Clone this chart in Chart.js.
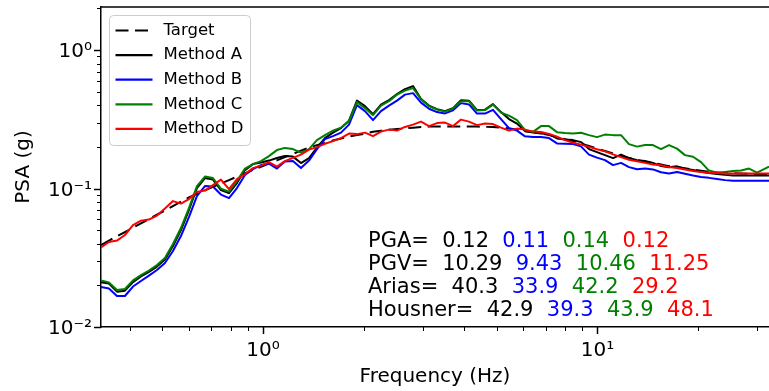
<!DOCTYPE html>
<html>
<head>
<meta charset="utf-8">
<script src="https://cdn.jsdelivr.net/npm/chart.js@4.4.1/dist/chart.umd.min.js"></script>
<style>
  html, body { margin: 0; padding: 0; background: #fff; overflow: hidden; }
  canvas { display: block; }
</style>
</head>
<body>
<canvas id="psa-chart" width="769" height="391"></canvas>
<script>
// frequencies (Hz) shared by every series
const freqs = [0.328, 0.3464, 0.3661, 0.3867, 0.4088, 0.4318, 0.4562, 0.4821, 0.5093, 0.5382,
  0.5686, 0.6008, 0.6348, 0.6707, 0.7087, 0.7488, 0.7915, 0.8361, 0.8835, 0.9335,
  0.9863, 1.042, 1.101, 1.163, 1.229, 1.299, 1.373, 1.450, 1.532, 1.619,
  1.711, 1.808, 1.910, 2.018, 2.133, 2.253, 2.381, 2.516, 2.658, 2.809,
  2.968, 3.136, 3.313, 3.501, 3.699, 3.908, 4.129, 4.364, 4.610, 4.871,
  5.147, 5.438, 5.745, 6.072, 6.416, 6.778, 7.162, 7.568, 7.996, 8.450,
  8.928, 9.432, 9.965, 10.53, 11.13, 11.76, 12.42, 13.13, 13.87, 14.65,
  15.48, 16.36, 17.29, 18.26, 19.30, 20.39, 21.54, 22.77, 24.06, 25.42,
  26.86, 28.38, 29.99, 31.68, 32.56];

// PSA (g)
const target = [0.0391, 0.0421, 0.0452, 0.0485, 0.0522, 0.0561, 0.0602, 0.0647, 0.0695, 0.0748,
  0.0804, 0.0864, 0.0917, 0.0971, 0.1028, 0.1089, 0.1151, 0.1219, 0.1288, 0.1365,
  0.1439, 0.1517, 0.160, 0.1687, 0.1781, 0.1878, 0.1977, 0.2061, 0.2132, 0.2222,
  0.2303, 0.2373, 0.2433, 0.2495, 0.257, 0.2612, 0.2658, 0.269, 0.2721, 0.2754,
  0.2787, 0.2805, 0.2805, 0.2805, 0.2805, 0.2805, 0.2805, 0.2805, 0.2793, 0.278,
  0.2754, 0.2721, 0.2667, 0.260, 0.2559, 0.2516, 0.2433, 0.2355, 0.2277, 0.2203,
  0.2113, 0.2028, 0.1946, 0.1866, 0.179, 0.1717, 0.1661, 0.1606, 0.1562, 0.1529,
  0.1491, 0.1453, 0.1429, 0.140, 0.1371, 0.1345, 0.1322, 0.1309, 0.1298, 0.1289,
  0.1283, 0.1279, 0.1275, 0.1272, 0.1272];

const methodA = [0.0211, 0.0206, 0.0180, 0.0183, 0.0211, 0.0232, 0.0250, 0.0273, 0.0307, 0.0385,
  0.0502, 0.0700, 0.1008, 0.1191, 0.1161, 0.0975, 0.0928, 0.1096, 0.1360, 0.1503,
  0.1541, 0.1593, 0.1661, 0.1717, 0.1702, 0.1528, 0.1661, 0.1977, 0.2315, 0.2537,
  0.2734, 0.3097, 0.4318, 0.3942, 0.3450, 0.4042, 0.4355, 0.4813, 0.5229, 0.5496,
  0.4429, 0.3975, 0.3750, 0.3627, 0.3814, 0.4355, 0.4318, 0.3689, 0.3718, 0.4076,
  0.3568, 0.3176, 0.2947, 0.2601, 0.2537, 0.2503, 0.2474, 0.2303, 0.2258, 0.2239,
  0.2166, 0.1929, 0.1834, 0.1745, 0.1661, 0.1760, 0.1661, 0.1600, 0.1582, 0.1533,
  0.1454, 0.1425, 0.1447, 0.1390, 0.1360, 0.1324, 0.1294, 0.1273, 0.1256, 0.1245,
  0.1245, 0.1245, 0.1245, 0.1245, 0.1245];

const methodB = [0.01945, 0.0190, 0.01675, 0.01675, 0.0196, 0.0215, 0.0235, 0.0258, 0.0290, 0.0354,
  0.0454, 0.0622, 0.0883, 0.1043, 0.1034, 0.0905, 0.0854, 0.1008, 0.1252, 0.1383,
  0.1478, 0.1515, 0.1395, 0.1566, 0.1579, 0.1406, 0.1593, 0.1929, 0.2277, 0.2393,
  0.2537, 0.2898, 0.4009, 0.3627, 0.3124, 0.3627, 0.3975, 0.4318, 0.4772, 0.4892,
  0.4178, 0.3770, 0.3568, 0.3491, 0.3675, 0.4143, 0.4054, 0.3480, 0.3480, 0.3707,
  0.3176, 0.2734, 0.2622, 0.2385, 0.2354, 0.2354, 0.2315, 0.2120, 0.2106, 0.2096,
  0.2017, 0.1760, 0.1674, 0.1606, 0.1478, 0.1533, 0.1429, 0.1378, 0.1395, 0.1376,
  0.1311, 0.1287, 0.1316, 0.1279, 0.1241, 0.1211, 0.1195, 0.1171, 0.1151, 0.1138,
  0.1138, 0.1138, 0.1138, 0.1138, 0.1138];

const methodC = [0.0217, 0.0210, 0.0185, 0.0188, 0.0217, 0.0237, 0.0256, 0.0280, 0.0315, 0.0398,
  0.0519, 0.0723, 0.1043, 0.1221, 0.1191, 0.100, 0.0951, 0.1133, 0.1395, 0.1503,
  0.1579, 0.1717, 0.1897, 0.1967, 0.1929, 0.1819, 0.1929, 0.2239, 0.2433, 0.2622,
  0.2757, 0.3072, 0.4213, 0.3814, 0.3393, 0.3975, 0.4283, 0.4772, 0.5099, 0.5316,
  0.4429, 0.3942, 0.3718, 0.3597, 0.3782, 0.4283, 0.4283, 0.3659, 0.3689, 0.4042,
  0.3538, 0.3365, 0.3124, 0.2644, 0.2570, 0.2827, 0.2827, 0.2557, 0.2516, 0.2503,
  0.2529, 0.2433, 0.2354, 0.2454, 0.2433, 0.2433, 0.2096, 0.2010, 0.2061, 0.2061,
  0.1929, 0.2061, 0.1944, 0.1745, 0.1697, 0.1553, 0.1349, 0.1300, 0.1320, 0.1338,
  0.1353, 0.1395, 0.1305, 0.1395, 0.1442];

const methodD = [0.0375, 0.0411, 0.0421, 0.0462, 0.0545, 0.0586, 0.0597, 0.0638, 0.0717, 0.0812,
  0.0779, 0.0840, 0.0943, 0.0967, 0.1060, 0.1161, 0.0992, 0.1171, 0.1273, 0.1406,
  0.1466, 0.1553, 0.1442, 0.1579, 0.1666, 0.1760, 0.1912, 0.1994, 0.2106, 0.2203,
  0.2315, 0.2495, 0.2474, 0.2537, 0.2393, 0.2580, 0.2667, 0.2622, 0.2789, 0.2898,
  0.3046, 0.2827, 0.2971, 0.2996, 0.2827, 0.3150, 0.3046, 0.2874, 0.2947, 0.2922,
  0.2754, 0.2622, 0.2712, 0.2667, 0.2580, 0.2559, 0.2483, 0.2374, 0.2239, 0.2141,
  0.2078, 0.2000, 0.1922, 0.1856, 0.1766, 0.1688, 0.1614, 0.1574, 0.1533, 0.1495,
  0.1473, 0.1429, 0.1406, 0.1372, 0.1338, 0.1320, 0.1302, 0.1294, 0.1287, 0.1287,
  0.1287, 0.1287, 0.1287, 0.1287, 0.1287];

const seriesNames = ['Target', 'Method A', 'Method B', 'Method C', 'Method D'];
const seriesColors = ['#000000', '#000000', '#0000ff', '#008000', '#ff0000'];

const statLabels = ['PGA=', 'PGV=', 'Arias=', 'Housner='];
const pgaValues = ['0.12', '0.11', '0.14', '0.12'];
const pgvValues = ['10.29', '9.43', '10.46', '11.25'];
const ariasValues = ['40.3', '33.9', '42.2', '29.2'];
const housnerValues = ['42.9', '39.3', '43.9', '48.1'];
const statColors = ['#000000', '#0000ff', '#008000', '#ff0000'];

const xTickValues = [0.4, 0.5, 0.6, 0.7, 0.8, 0.9, 1, 2, 3, 4, 5, 6, 7, 8, 9, 10, 20, 30];
const yTickValues = [0.01, 0.02, 0.03, 0.04, 0.05, 0.06, 0.07, 0.08, 0.09,
  0.1, 0.2, 0.3, 0.4, 0.5, 0.6, 0.7, 0.8, 0.9, 1, 2];

const FONT = '"DejaVu Sans", Verdana, sans-serif';
const targetDash = [13, 6.5];

const sup = { '-': '\u207B', '0': '\u2070', '1': '\u00B9', '2': '\u00B2' };
function isPower(v) {
  const e = Math.log10(v);
  return Math.abs(e - Math.round(e)) < 1e-6;
}
function powerLabel(v) {
  if (!isPower(v)) return '';
  return '10' + String(Math.round(Math.log10(v))).split('').map(c => sup[c]).join('');
}
function noPadding(s) {
  s.paddingLeft = 0; s.paddingRight = 0; s.paddingTop = 0; s.paddingBottom = 0;
}

// matplotlib style tick marks + top spine
const tickMarks = {
  id: 'tickMarks',
  afterDraw(chart) {
    const { ctx, chartArea, scales } = chart;
    ctx.save();
    ctx.strokeStyle = '#000';
    scales.x.ticks.forEach(t => {
      const px = Math.round(scales.x.getPixelForValue(t.value)) + 0.5;
      ctx.lineWidth = t.major ? 1.5 : 1;
      ctx.beginPath();
      ctx.moveTo(px, chartArea.bottom);
      ctx.lineTo(px, chartArea.bottom + (t.major ? 7 : 4));
      ctx.stroke();
    });
    scales.y.ticks.forEach(t => {
      const py = Math.round(scales.y.getPixelForValue(t.value)) + 0.5;
      ctx.lineWidth = t.major ? 1.5 : 1;
      ctx.beginPath();
      ctx.moveTo(chartArea.left, py);
      ctx.lineTo(chartArea.left - (t.major ? 7 : 4), py);
      ctx.stroke();
    });
    ctx.lineWidth = 1.5;
    ctx.beginPath();
    ctx.moveTo(chartArea.left, chartArea.top);
    ctx.lineTo(chartArea.right, chartArea.top);
    ctx.stroke();
    ctx.restore();
  }
};

// legend box in the upper left corner
const legendBox = {
  id: 'legendBox',
  afterDraw(chart) {
    const { ctx, chartArea } = chart;
    const x0 = chartArea.left + 8.5, y0 = chartArea.top + 8.5;
    ctx.save();
    ctx.beginPath();
    ctx.roundRect(x0, y0, 141, 130, 4);
    ctx.fillStyle = 'rgba(255,255,255,0.8)';
    ctx.fill();
    ctx.strokeStyle = '#cccccc';
    ctx.lineWidth = 1;
    ctx.stroke();
    ctx.font = '16.5px ' + FONT;
    ctx.textBaseline = 'middle';
    chart.data.datasets.forEach((ds, i) => {
      const y = y0 + 15 + i * 24.6;
      ctx.strokeStyle = ds.borderColor;
      ctx.lineWidth = 2.2;
      ctx.setLineDash(ds.borderDash || []);
      ctx.beginPath();
      ctx.moveTo(x0 + 6, y);
      ctx.lineTo(x0 + 43, y);
      ctx.stroke();
      ctx.setLineDash([]);
      ctx.fillStyle = '#000';
      ctx.fillText(ds.label, x0 + 54, y);
    });
    ctx.restore();
  }
};

// ground motion parameters written in the plot
const statsText = {
  id: 'statsText',
  afterDraw(chart) {
    const { ctx, chartArea } = chart;
    const rows = [pgaValues, pgvValues, ariasValues, housnerValues];
    ctx.save();
    ctx.font = '21px ' + FONT;
    ctx.textBaseline = 'alphabetic';
    rows.forEach((vals, r) => {
      let x = chartArea.left + 267;
      const y = chartArea.top + 240 + r * 23;
      ctx.fillStyle = '#000';
      ctx.fillText(statLabels[r], x, y);
      x += ctx.measureText(statLabels[r] + '  ').width;
      vals.forEach((v, i) => {
        ctx.fillStyle = statColors[i];
        ctx.fillText(v, x, y);
        x += ctx.measureText(v + '  ').width;
      });
    });
    ctx.restore();
  }
};

const seriesValues = [target, methodA, methodB, methodC, methodD];
const datasets = seriesNames.map((name, i) => ({
  label: name,
  data: freqs.map((f, k) => ({ x: f, y: seriesValues[i][k] })),
  borderColor: seriesColors[i],
  backgroundColor: 'transparent',
  borderWidth: 2,
  borderDash: i === 0 ? targetDash : [],
  borderJoinStyle: 'round',
  pointRadius: 0,
  tension: 0,
  order: seriesNames.length - i
}));

const axisFont = { family: FONT, size: 20 };

new Chart(document.getElementById('psa-chart').getContext('2d'), {
  type: 'line',
  data: { datasets },
  options: {
    responsive: false,
    devicePixelRatio: 1,
    animation: false,
    layout: { padding: { left: 0, top: 7, right: 0, bottom: 0 } },
    scales: {
      x: {
        type: 'logarithmic',
        bounds: 'data',
        min: 0.328,
        max: 32.56,
        afterBuildTicks: s => { s.ticks = xTickValues.map(v => ({ value: v, major: isPower(v) })); },
        afterFit: s => { s.height = 64; noPadding(s); },
        ticks: { autoSkip: false, maxRotation: 0, padding: 12, color: '#000', font: axisFont, callback: v => powerLabel(v) },
        grid: { display: true, drawOnChartArea: false, drawTicks: false },
        border: { display: true, color: '#000', width: 1.5 },
        title: { display: true, text: 'Frequency (Hz)', color: '#000', font: axisFont, padding: { top: 0, bottom: 2 } }
      },
      y: {
        type: 'logarithmic',
        bounds: 'data',
        min: 0.01,
        max: 2.05,
        afterBuildTicks: s => { s.ticks = yTickValues.map(v => ({ value: v, major: isPower(v) })); },
        afterFit: s => { s.width = 101; noPadding(s); },
        ticks: { autoSkip: false, padding: 9, labelOffset: 2, color: '#000', font: axisFont, callback: v => powerLabel(v) },
        grid: { display: true, drawOnChartArea: false, drawTicks: false },
        border: { display: true, color: '#000', width: 1.5 },
        title: { display: true, text: 'PSA (g)', color: '#000', font: axisFont, padding: { top: 12, bottom: 0 } }
      }
    },
    plugins: {
      legend: { display: false },
      tooltip: { enabled: false }
    }
  },
  plugins: [tickMarks, legendBox, statsText]
});
</script>
</body>
</html>
